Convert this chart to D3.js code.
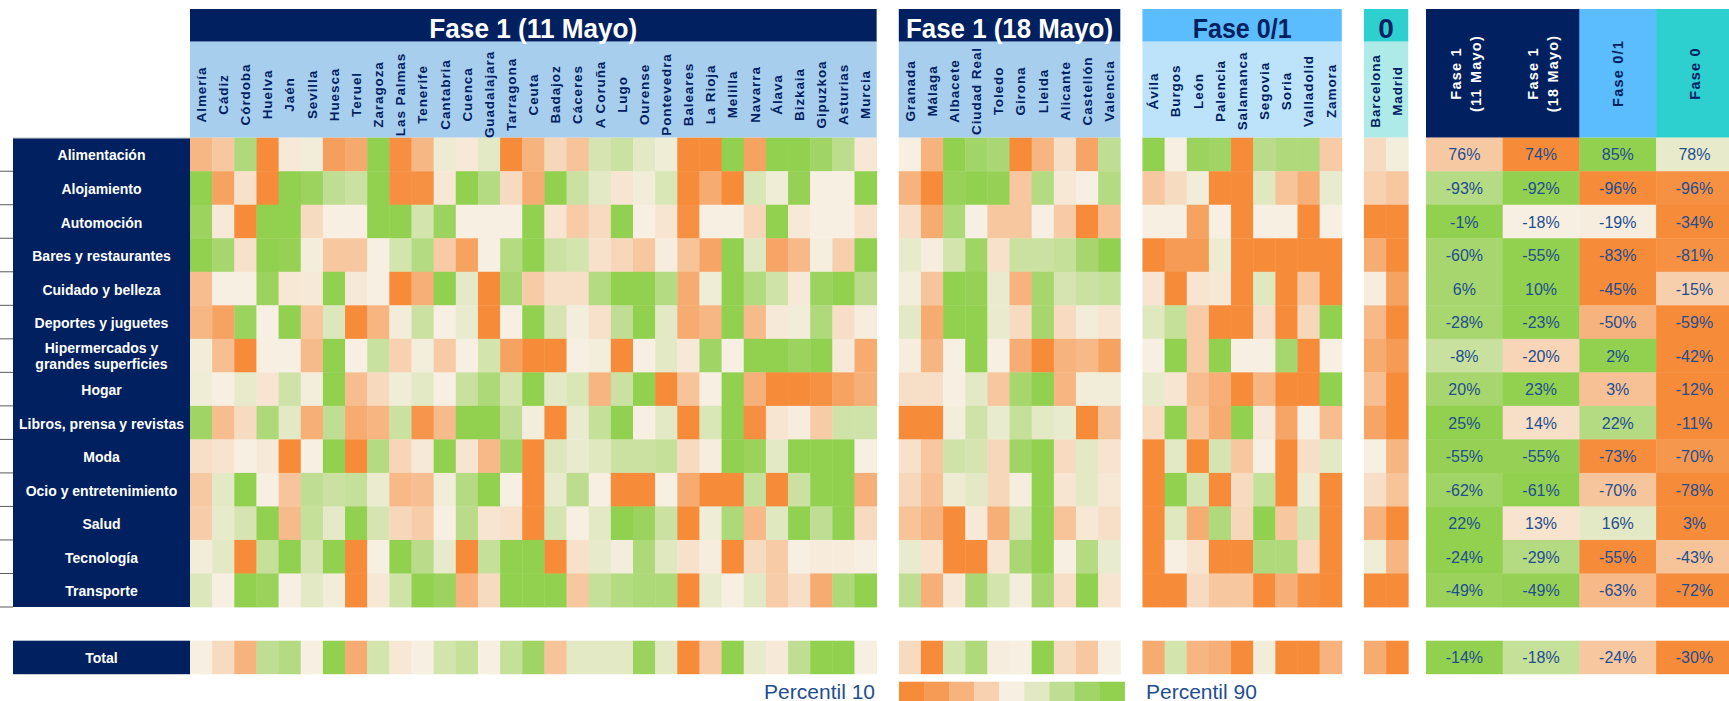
<!DOCTYPE html>
<html><head><meta charset="utf-8">
<script src="https://cdn.jsdelivr.net/npm/d3@7"></script>
<style>html,body{margin:0;padding:0;background:#fff;overflow:hidden}</style>
</head><body>
<svg id="chart" width="1729" height="701"></svg>
<script>
// ---------- DATA ----------
const categories = ["Alimentación","Alojamiento","Automoción","Bares y restaurantes","Cuidado y belleza",
  "Deportes y juguetes","Hipermercados y\ngrandes superficies","Hogar","Libros, prensa y revistas","Moda",
  "Ocio y entretenimiento","Salud","Tecnología","Transporte"];
const totalLabel = "Total";

const provF1_11 = ["Almería","Cádiz","Córdoba","Huelva","Jaén","Sevilla","Huesca","Teruel","Zaragoza","Las Palmas",
  "Tenerife","Cantabria","Cuenca","Guadalajara","Tarragona","Ceuta","Badajoz","Cáceres","A Coruña","Lugo","Ourense",
  "Pontevedra","Baleares","La Rioja","Melilla","Navarra","Álava","Bizkaia","Gipuzkoa","Asturias","Murcia"];
const provF1_18 = ["Granada","Málaga","Albacete","Ciudad Real","Toledo","Girona","Lleida","Alicante","Castellón","Valencia"];
const provF01 = ["Ávila","Burgos","León","Palencia","Salamanca","Segovia","Soria","Valladolid","Zamora"];
const provF0 = ["Barcelona","Madrid"];

// colour level per cell: 0 = percentil 10 (orange), 5 = middle (cream), 10 = percentil 90 (green)
const levelsF1_11 = [
 [2.2,3,8.5,0,4.7,5.3,1,1.5,10,0.2,2.2,5.5,4.7,6,0,2, 3.8,2.8,6.7,7.2,6,5.4,0,0,10,1.2,10,10,9.3,7.9,4.6],
 [10,1.2,4.3,0,10,9.5,7.7,7.2,10,0.2,0.3,4.6,10,8.3,4,1.7, 10,7.2,6,4.5,5.3,6.5,0,1.6,0,6.5,5.4,9.8,5,5,10],
 [9.5,4.7,0,10,10,4,5,5,10,10,6.8,9.5,5,5,5,10, 4.5,3.2,4,10,5,4.5,0.3,5,5,3.8,10,4.7,5,5,4.3],
 [10,9,4.3,10,9.8,5.2,3,3,5,6.8,8.3,3.2,1.2,5,8.3,10, 7.2,6.8,4.3,3.8,3,4.9,2.8,1.3,10,6.2,1.3,2.3,5.1,3.4,10],
 [2.5,5,5,9.5,4.6,4.7,10,4.7,5,0,1.8,10,5.9,0,8.8,3.2, 4.2,4.2,8.3,10,10,8.3,1.6,5.4,10,8.4,7,4.7,9.5,10,8],
 [2.2,1.2,9.5,5,10,3,6.3,0,2.1,5.3,7.2,5,5.7,0,5,10, 6.7,5.2,4.3,7.7,10,6,1.6,2.2,10,2.4,4.7,5.3,8.5,4.2,4.9],
 [5.3,2.6,0,5,5,2.4,10,5,7.3,3.5,5.2,3.2,5,6.8,1.2,0, 0,5,5.2,0,5,6,4.7,9.3,5,10,10,9.5,10,4.7,1.6],
 [5.4,5,5.8,4.5,7,5.2,10,2.5,3.9,5.4,6,5,7.3,8.6,6.8,10, 6,6.5,2.1,7.2,10,0,2.8,5,10,1.9,0,0,0.3,1.2,1.8],
 [9.3,2.5,4,8.6,6,1.8,7.7,1.6,2.1,7.2,0.5,2.4,10,10,7.7,5.2, 0,5.7,7.5,10,5,6,0,6.5,10,0.2,4.5,4.9,3.2,7,7],
 [4.2,4.4,5,4.7,0,5,10,0,8.3,3.7,4.7,10,4.5,2.3,9.3,0, 6.3,5.7,6.2,7.2,7.2,7.5,4,4.9,10,9.6,6,10,10,10,5],
 [3.1,6,10,5,2.9,7.7,7.2,7.5,5.6,2.3,2.6,5.3,8.3,10,5,0, 5.8,7.9,5,0,0,5,1.6,0,0,7.5,0,7.2,10,10,1.8],
 [3.3,5.8,6.7,10,2.4,7.5,5.9,10,6.7,3.8,3.3,5,8,4.5,4.3,0, 6.7,5,6,10,9.5,7.2,0,5.4,8.6,2.3,6.2,10,7.7,10,4],
 [5.3,6,0,7.5,10,6.7,10,0,5,10,8,5.8,0,7.5,10,10, 0,4.3,5.8,5.2,8.6,6.2,4.3,4.9,0,4,3.2,5,4.8,4.8,5],
 [6.3,5,10,9.6,5,6,5.3,0,4.6,7,10,9.5,2,4,10,10, 10,3,7.5,8.3,8.6,8.6,0,5.7,5,6,3.3,4.2,1.6,8.6,10]
];
const levelsF1_18 = [
 [5,2,10,9.2,8.8,0,2.1,4.2,1.3,7.7],
 [2,0,9.7,10,9.8,3,8.3,4.6,5,8.3],
 [4.2,1.6,8.6,5,3,3,5,3.2,0,2.7],
 [5.8,4.9,6.8,9.3,4.3,7.2,7.2,7.5,9,10],
 [5.2,2.9,10,9.8,5.7,2,9,6.7,7.2,7.5],
 [6,1.6,10,10,5.7,4,9,4,5.3,4.5],
 [4.9,2.1,5,10,5,1.7,0,2,2.3,1.2],
 [4.2,4.2,5,6,3,9,10,2.1,5.3,5.3],
 [0,0,5.2,7,5.7,7.5,6,5.7,0,2.9],
 [4.3,3,7,6.7,3.8,9.3,10,4,6,4.4],
 [3.8,2.7,5.5,6,3.8,5.1,10,4.5,6,4.6],
 [2.8,2,0,4.7,1.8,6.7,10,2.8,4.6,4.2],
 [5.7,4.4,0,0,4.5,8.8,10,5,8.3,5.7],
 [7.7,1.8,4.6,8.8,6.8,5.2,9,4.2,10,4.5]
];
const levelsF01 = [
 [10,5,9.5,9.3,0,8,8.5,8.5,3.2],
 [3,4,5.3,0,0,6.2,2.8,1.8,5.7],
 [5,5,1.2,5,0,5,5,0,5],
 [0,0.8,0.8,5.5,0,0,0,0,0],
 [4.5,0,4.5,4.6,0,6.2,0,3,0],
 [6.2,7.5,3.2,0,0,4.2,0,3.8,10],
 [5,10,3.2,10,5,5,9,0,5],
 [5.8,4.5,2.5,1.8,0,2.1,0,0,10],
 [4.1,10,3,1.6,10,4.7,1.3,5,2.5],
 [0,6,0,6.7,3,5,0,4.2,6],
 [0,10,6.7,0,4,7.5,0,5.5,0],
 [0,6.2,1.7,8.5,3.8,10,3,6.7,0],
 [0,5,4.4,0,0,8.5,8.5,4,0],
 [0,0,4,3,3,0,1.8,0.3,0]
];
const levelsF0 = [
 [4,5.2],[3.5,3],[0,0],[1.7,0],[4.9,1.2],[2.3,0],[1.6,0.8],
 [2.6,0],[1.3,0],[5,2.1],[4.2,2.8],[2,0],[5.4,2.1],[0,0]
];
const totalF1_11 = [5,4,2,7.7,8.3,5,10,1.6,6.8,4.6,5,6.8,7.5,5,7.5,9.3,2.8,6,6,6,9.5,6,0,3.2,10,5.8,4.7,7.7,10,10,5];
const totalF1_18 = [4,0,6.8,8.5,4.9,5,10,4,3,5];
const totalF01 = [1.6,6.8,2.1,1.8,0,5.3,0,0,2];
const totalF0 = [1.6,0];

const summaryHeaders = ["Fase 1\n(11 Mayo)","Fase 1\n(18 Mayo)","Fase 0/1","Fase 0"];
const summaryPct = [
 [76,74,85,78],[-93,-92,-96,-96],[-1,-18,-19,-34],[-60,-55,-83,-81],[6,10,-45,-15],
 [-28,-23,-50,-59],[-8,-20,2,-42],[20,23,3,-12],[25,14,22,-11],[-55,-55,-73,-70],
 [-62,-61,-70,-78],[22,13,16,3],[-24,-29,-55,-43],[-49,-49,-63,-72]
];
const summaryLevels = [
 [3.1,0,10,5.8],[8.2,10,0,0.3],[10,5,4.9,0],[9,10,0,0.3],[9,10,0,3.4],
 [8.9,10,2,0],[7.3,3.7,10,0],[9,10,2.7,0],[10,4.2,8.3,0],[9.8,9.8,0.1,0.6],
 [9.3,10,2.9,0],[10,4.4,6,0],[10,8.3,0,2.8],[9.6,9.8,2.3,0]
];
const summaryTotalPct = [-14,-18,-24,-30];
const summaryTotalLevels = [10,7.5,3,0];

const legendLevels = [0,0.8,2,3.5,5,6.1,7.7,9.2,10];
const legendLabels = ["Percentil 10","Percentil 90"];

// ---------- DRAW ----------
const svg = d3.select("#chart");
const FONT = "'Liberation Sans', Arial, Helvetica, sans-serif";
const NAVY = "#002060";
const TXT = "#1F4E8F";

const blocks = [
  {key:"a", title:"Fase 1 (11 Mayo)", cols:provF1_11, levels:levelsF1_11, total:totalF1_11, band:NAVY, tcol:"#FFFFFF", light:"#A8CEEE", tlen:208, ly:94.5},
  {key:"b", title:"Fase 1 (18 Mayo)", cols:provF1_18, levels:levelsF1_18, total:totalF1_18, band:NAVY, tcol:"#FFFFFF", light:"#A8CEEE", tlen:207, ly:91},
  {key:"c", title:"Fase 0/1", cols:provF01, levels:levelsF01, total:totalF01, band:"#5BBDFD", tcol:NAVY, light:"#BDE3FB", tlen:99, ly:91},
  {key:"d", title:"0", cols:provF0, levels:levelsF0, total:totalF0, band:"#2ECFCF", tcol:NAVY, light:"#AEEAE8", tlen:null, ly:91}
];

const xDomain = [];
blocks.forEach((b,i)=>{ if(i>0) xDomain.push("gap"+i); b.cols.forEach(c=>xDomain.push(b.key+"|"+c)); });
const colW = 22.15;
const x = d3.scaleBand().domain(xDomain).range([190, 190 + xDomain.length*colW]);
const y = d3.scaleBand().domain(categories).range([137.7, 607]);
const bw = x.bandwidth(), bh = y.bandwidth();
const totalY = 640.7;
const color = d3.scaleLinear().domain([0,5,10]).range(["#F68B3A","#F7EFE2","#92D050"]).interpolate(d3.interpolateRgb);

// headers of blocks
blocks.forEach(b=>{
  const x0 = x(b.key+"|"+b.cols[0]);
  const x1 = x(b.key+"|"+b.cols[b.cols.length-1]) + bw;
  svg.append("rect").attr("x",x0).attr("y",9).attr("width",x1-x0).attr("height",32.7).attr("fill",b.band);
  svg.append("rect").attr("x",x0).attr("y",41.7).attr("width",x1-x0).attr("height",96).attr("fill",b.light);
  const t = svg.append("text").attr("x",(x0+x1)/2).attr("y",37.5).attr("text-anchor","middle")
    .attr("font-family",FONT).attr("font-weight","bold").attr("font-size",28).attr("fill",b.tcol).text(b.title);
  if (b.tlen) t.attr("textLength",b.tlen).attr("lengthAdjust","spacingAndGlyphs");
  svg.append("g").selectAll("text").data(b.cols).join("text")
    .attr("transform",d=>`translate(${x(b.key+"|"+d)+bw/2+4.8},${b.ly}) rotate(-90)`)
    .attr("text-anchor","middle").attr("font-family",FONT).attr("font-weight","bold")
    .attr("font-size",13.5).attr("letter-spacing",0.9).attr("fill",NAVY).text(d=>d);

  // cells
  const g = svg.append("g");
  b.levels.forEach((row,ri)=>{
    g.selectAll(null).data(row).join("rect")
      .attr("x",(d,ci)=>x(b.key+"|"+b.cols[ci])).attr("y",y(categories[ri]))
      .attr("width",bw+0.4).attr("height",bh+0.4).attr("fill",d=>color(d));
  });
  g.selectAll(null).data(b.total).join("rect")
    .attr("x",(d,ci)=>x(b.key+"|"+b.cols[ci])).attr("y",totalY)
    .attr("width",bw+0.4).attr("height",bh).attr("fill",d=>color(d));
});

// row labels
svg.append("rect").attr("x",13).attr("y",139).attr("width",177).attr("height",607-139).attr("fill",NAVY);
svg.append("line").attr("x1",13).attr("x2",190).attr("y1",138.3).attr("y2",138.3).attr("stroke","#4A5A7A").attr("stroke-width",1);
const bounds = categories.map(c=>y(c)).concat([607]);
svg.append("g").selectAll("line").data(bounds.slice(1)).join("line")
  .attr("x1",0).attr("x2",13).attr("y1",d=>d).attr("y2",d=>d).attr("stroke","#595959").attr("stroke-width",1);
const rl = svg.append("g").attr("font-family",FONT).attr("font-weight","bold").attr("font-size",14).attr("fill","#FFFFFF").attr("text-anchor","middle");
categories.forEach(c=>{
  const lines = c.split("\n");
  const cy = y(c)+bh/2;
  if (lines.length===1) {
    rl.append("text").attr("x",101.5).attr("y",cy+6).text(c);
  } else {
    rl.append("text").attr("x",101.5).attr("y",cy-2.5).text(lines[0]);
    rl.append("text").attr("x",101.5).attr("y",cy+13.5).text(lines[1]);
  }
});
svg.append("rect").attr("x",13).attr("y",totalY).attr("width",177).attr("height",bh).attr("fill",NAVY);
svg.append("text").attr("x",101.5).attr("y",totalY+bh/2+5.5).attr("text-anchor","middle")
  .attr("font-family",FONT).attr("font-weight","bold").attr("font-size",14).attr("fill","#FFFFFF").text(totalLabel);

// summary
const sKeys = summaryHeaders.map((h,i)=>"s"+i);
const sx = d3.scaleBand().domain(sKeys).range([1426, 1426+4*76.7]);
const sw = sx.bandwidth();
const sBand = [NAVY, NAVY, "#5BBDFD", "#2ECFCF"];
const sTxt = ["#FFFFFF","#FFFFFF",NAVY,NAVY];
svg.append("g").selectAll("rect").data(sKeys).join("rect")
  .attr("x",d=>sx(d)).attr("y",9).attr("width",sw+0.4).attr("height",128.7).attr("fill",(d,i)=>sBand[i]);
summaryHeaders.forEach((h,i)=>{
  const cx = sx(sKeys[i]) + sw/2;
  const lines = h.split("\n");
  const g = svg.append("g").attr("font-family",FONT).attr("font-weight","bold").attr("font-size",14.5)
    .attr("letter-spacing",1.2).attr("fill",sTxt[i]).attr("text-anchor","middle");
  if (lines.length===1) {
    g.append("text").attr("transform",`translate(${cx+5.5},73.5) rotate(-90)`).text(h);
  } else {
    g.append("text").attr("transform",`translate(${cx-3},73.5) rotate(-90)`).text(lines[0]);
    g.append("text").attr("transform",`translate(${cx+17},73.5) rotate(-90)`).text(lines[1]);
  }
});
const sg = svg.append("g");
summaryLevels.forEach((row,ri)=>{
  const yy = y(categories[ri]);
  sg.selectAll(null).data(row).join("rect")
    .attr("x",(d,ci)=>sx(sKeys[ci])).attr("y",yy).attr("width",sw+0.4).attr("height",bh+0.4).attr("fill",d=>color(d));
  sg.selectAll(null).data(summaryPct[ri]).join("text")
    .attr("x",(d,ci)=>sx(sKeys[ci])+sw/2).attr("y",yy+bh/2+6).attr("text-anchor","middle")
    .attr("font-family",FONT).attr("font-size",16).attr("fill",TXT).text(d=>d+"%");
});
sg.selectAll(null).data(summaryTotalLevels).join("rect")
  .attr("x",(d,ci)=>sx(sKeys[ci])).attr("y",totalY).attr("width",sw+0.4).attr("height",bh).attr("fill",d=>color(d));
sg.selectAll(null).data(summaryTotalPct).join("text")
  .attr("x",(d,ci)=>sx(sKeys[ci])+sw/2).attr("y",totalY+bh/2+6).attr("text-anchor","middle")
  .attr("font-family",FONT).attr("font-size",16).attr("fill",TXT).text(d=>d+"%");

// legend
const lx = d3.scaleBand().domain(legendLevels.map((d,i)=>i)).range([899, 1124.5]);
svg.append("g").selectAll("rect").data(legendLevels).join("rect")
  .attr("x",(d,i)=>lx(i)).attr("y",681.7).attr("width",lx.bandwidth()+0.4).attr("height",20).attr("fill",d=>color(d));
svg.append("text").attr("x",875).attr("y",698.5).attr("text-anchor","end").attr("font-family",FONT)
  .attr("font-size",21).attr("fill",TXT).text(legendLabels[0]);
svg.append("text").attr("x",1146).attr("y",698.5).attr("text-anchor","start").attr("font-family",FONT)
  .attr("font-size",21).attr("fill",TXT).text(legendLabels[1]);
</script>
</body></html>
